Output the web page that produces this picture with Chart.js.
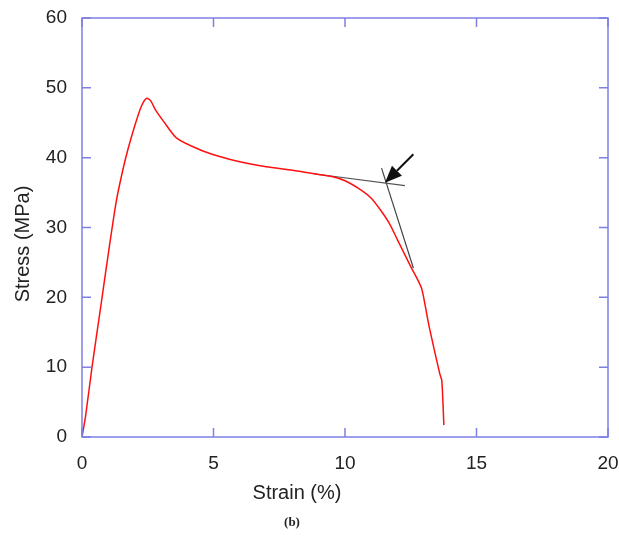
<!DOCTYPE html>
<html>
<head>
<meta charset="utf-8">
<script src="https://cdn.jsdelivr.net/npm/chart.js@4.4.1/dist/chart.umd.min.js"></script>
<style>
  html, body { margin: 0; padding: 0; background: #fff; }
  #wrap { width: 619px; height: 542px; }
</style>
</head>
<body>
<div id="wrap"><canvas id="stressChart" width="619" height="542"></canvas></div>
<script>
// Curva tensão x deformação
const strain = [0, 0.14, 0.38, 0.74, 1.06, 1.31, 1.55, 1.74, 2.0, 2.25, 2.45, 2.6, 2.8, 3.1, 3.6, 4.5, 5.2, 6.0, 7.0, 8.0, 9.0, 9.5, 10.0, 10.6, 11.0, 11.35, 11.7, 12.0, 12.5, 12.9, 13.05, 13.2, 13.6, 13.68, 13.76];
const stress = [0, 3.1, 10, 19.4, 27.8, 33.9, 38.2, 41.1, 44.5, 47.3, 48.5, 48.2, 46.8, 45.2, 42.8, 41.1, 40.2, 39.4, 38.7, 38.2, 37.6, 37.3, 36.7, 35.4, 34.2, 32.5, 30.5, 28.2, 24.4, 21.4, 18.8, 15.8, 9.1, 8.1, 1.7];

// Retas tangentes
const tangent1X = [8.8, 12.28];
const tangent1Y = [37.7, 36.0];
const tangent2X = [11.39, 12.6];
const tangent2Y = [38.5, 24.2];

// Seta (cauda -> ponta)
const arrowX = [12.6, 11.52];
const arrowY = [40.5, 36.4];

// Marcas dos eixos
const xTicks = [0, 5, 10, 15, 20];
const yTicks = [0, 10, 20, 30, 40, 50, 60];

const frameColor = '#7f7fe4';
const textFont = '"Liberation Sans", Arial, sans-serif';

function pontos(xs, ys) {
    return xs.map(function(x, i) { return { x: x, y: ys[i] }; });
}

// Moldura, marcas internas, seta e textos
const molduraPlugin = {
    id: 'moldura',
    afterDatasetsDraw: function(chart) {
        const ctx = chart.ctx;
        const area = chart.chartArea;
        const sx = chart.scales.x;
        const sy = chart.scales.y;
        const tl = 9;

        ctx.save();
        ctx.strokeStyle = frameColor;
        ctx.lineWidth = 1.5;
        ctx.strokeRect(area.left, area.top, area.right - area.left, area.bottom - area.top);

        ctx.beginPath();
        xTicks.forEach(function(v) {
            const px = sx.getPixelForValue(v);
            ctx.moveTo(px, area.bottom); ctx.lineTo(px, area.bottom - tl);
            ctx.moveTo(px, area.top); ctx.lineTo(px, area.top + tl);
        });
        yTicks.forEach(function(v) {
            const py = sy.getPixelForValue(v);
            ctx.moveTo(area.left, py); ctx.lineTo(area.left + tl, py);
            ctx.moveTo(area.right, py); ctx.lineTo(area.right - tl, py);
        });
        ctx.stroke();

        // Seta
        const x0 = sx.getPixelForValue(arrowX[0]);
        const y0 = sy.getPixelForValue(arrowY[0]);
        const x1 = sx.getPixelForValue(arrowX[1]);
        const y1 = sy.getPixelForValue(arrowY[1]);
        const ang = Math.atan2(y1 - y0, x1 - x0);
        const hl = 17, hw = 7;
        const bx = x1 - hl * Math.cos(ang);
        const by = y1 - hl * Math.sin(ang);
        ctx.strokeStyle = '#111';
        ctx.lineWidth = 2;
        ctx.beginPath();
        ctx.moveTo(x0, y0);
        ctx.lineTo(bx, by);
        ctx.stroke();
        ctx.fillStyle = '#111';
        ctx.beginPath();
        ctx.moveTo(x1, y1);
        ctx.lineTo(bx + hw * Math.sin(ang), by - hw * Math.cos(ang));
        ctx.lineTo(bx - hw * Math.sin(ang), by + hw * Math.cos(ang));
        ctx.closePath();
        ctx.fill();

        // Títulos dos eixos
        ctx.fillStyle = '#222';
        ctx.textAlign = 'center';
        ctx.textBaseline = 'middle';
        ctx.font = '20px ' + textFont;
        ctx.fillText('Strain (%)', 297, 493);
        ctx.save();
        ctx.translate(23, 244);
        ctx.rotate(-Math.PI / 2);
        ctx.fillText('Stress (MPa)', 0, 0);
        ctx.restore();
        ctx.font = 'bold 13px "Liberation Serif", "Times New Roman", serif';
        ctx.fillText('(b)', 292, 523);
        ctx.restore();
    }
};

const ctx = document.getElementById('stressChart').getContext('2d');

new Chart(ctx, {
    type: 'line',
    data: {
        datasets: [
            {
                data: pontos(strain, stress),
                borderColor: '#ff1010',
                borderWidth: 1.5,
                pointRadius: 0,
                tension: 0.25,
                fill: false
            },
            {
                data: pontos(tangent1X, tangent1Y),
                borderColor: '#555',
                borderWidth: 1.2,
                pointRadius: 0,
                fill: false
            },
            {
                data: pontos(tangent2X, tangent2Y),
                borderColor: '#444',
                borderWidth: 1.2,
                pointRadius: 0,
                fill: false
            }
        ]
    },
    options: {
        responsive: false,
        animation: false,
        layout: { padding: { left: 0, right: 11, top: 18, bottom: 0 } },
        plugins: {
            legend: { display: false },
            tooltip: { enabled: false }
        },
        scales: {
            x: {
                type: 'linear',
                min: 0,
                max: 20,
                afterBuildTicks: function(scale) {
                    scale.ticks = xTicks.map(function(v) { return { value: v }; });
                },
                afterFit: function(scale) {
                    scale.height = 105;
                    scale.paddingLeft = 0;
                    scale.paddingRight = 0;
                },
                grid: { display: false, drawTicks: false },
                border: { display: false },
                ticks: {
                    padding: 15,
                    color: '#222',
                    maxRotation: 0,
                    autoSkip: false,
                    font: { family: textFont, size: 19 }
                }
            },
            y: {
                type: 'linear',
                min: 0,
                max: 60,
                afterBuildTicks: function(scale) {
                    scale.ticks = yTicks.map(function(v) { return { value: v }; });
                },
                afterFit: function(scale) {
                    scale.width = 82;
                    scale.paddingTop = 0;
                    scale.paddingBottom = 0;
                },
                grid: { display: false, drawTicks: false },
                border: { display: false },
                ticks: {
                    padding: 15,
                    color: '#222',
                    font: { family: textFont, size: 19 }
                }
            }
        }
    },
    plugins: [molduraPlugin]
});
</script>
</body>
</html>
